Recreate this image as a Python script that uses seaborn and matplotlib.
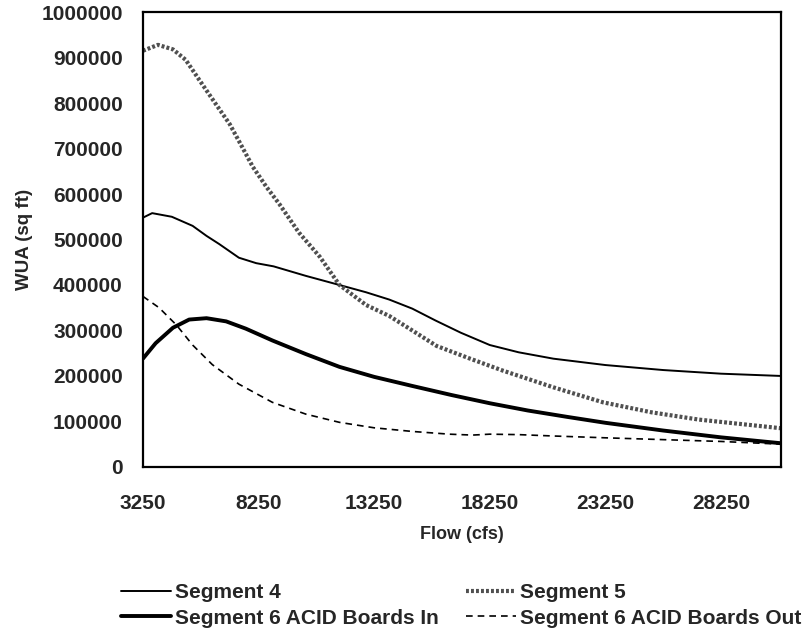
import pandas as pd
import matplotlib
matplotlib.use('Agg')
import matplotlib.pyplot as plt
import seaborn as sns

# WUA vs flow
seg4_flow = [3250, 3650, 4500, 5400, 6000, 6550, 7400, 8150, 8900, 10300, 11750,
             12900, 13900, 14900, 15900, 17000, 18250, 19500, 21000, 23250, 25750, 28250, 30850]
seg4_wua = [548000, 558000, 550000, 530000, 508000, 490000, 460000, 448000, 441000, 420000, 400000,
            384000, 368000, 348000, 322000, 295000, 268000, 252000, 238000, 224000, 213000, 205000, 200000]

seg5_flow = [3250, 3900, 4550, 5100, 5700, 6400, 7000, 7450, 8000, 8600, 9150, 10000, 10900,
             11750, 12900, 13900, 14900, 15950, 17400, 18800, 21000, 23150, 25250, 27300, 30850]
seg5_wua = [915000, 928000, 918000, 895000, 850000, 798000, 754000, 712000, 660000, 615000, 578000,
            515000, 462000, 400000, 356000, 332000, 300000, 266000, 238000, 212000, 175000, 142000,
            120000, 104000, 85000]

seg6in_flow = [3250, 3800, 4550, 5250, 6000, 6850, 7700, 8850, 10300, 11750, 13250, 14900, 16600,
               18250, 19900, 21600, 23250, 25750, 28250, 30850]
seg6in_wua = [238000, 272000, 306000, 324000, 327000, 320000, 304000, 278000, 248000, 220000, 198000,
              178000, 158000, 140000, 124000, 110000, 97000, 80000, 65000, 52000]

seg6out_flow = [3250, 3950, 4700, 5400, 6250, 7400, 8850, 10300, 11750, 13250, 14900, 16500,
                17500, 18250, 19500, 21000, 23250, 25750, 28250, 30850]
seg6out_wua = [375000, 350000, 312000, 268000, 225000, 182000, 142000, 116000, 98000, 86000, 78000,
               72000, 70000, 72000, 71000, 68000, 64000, 60000, 56000, 50000]

x_ticks = [3250, 8250, 13250, 18250, 23250, 28250]
y_ticks = list(range(0, 1000001, 100000))

rows = []
for name, fl, wu in [('Segment 4', seg4_flow, seg4_wua),
                     ('Segment 5', seg5_flow, seg5_wua),
                     ('Segment 6 ACID Boards In', seg6in_flow, seg6in_wua),
                     ('Segment 6 ACID Boards Out', seg6out_flow, seg6out_wua)]:
    for f, w in zip(fl, wu):
        rows.append({'Flow': f, 'WUA': w, 'Serie': name})
df = pd.DataFrame(rows)

sns.set_style('white')
plt.rcParams['font.family'] = ['Liberation Sans', 'DejaVu Sans']
plt.rcParams['font.weight'] = 'bold'

fig = plt.figure(figsize=(8.12, 6.37), dpi=100)
ax = fig.add_axes([0.176, 0.267, 0.786, 0.714])

estilos = {
    'Segment 4': dict(color='black', lw=1.4, ls='-'),
    'Segment 5': dict(color='#505050', lw=3.0, ls=(0, (0.7, 0.5))),
    'Segment 6 ACID Boards In': dict(color='black', lw=2.8, ls='-'),
    'Segment 6 ACID Boards Out': dict(color='black', lw=1.2, ls=(0, (4, 3))),
}

handles = {}
for serie, st in estilos.items():
    sub = df[df['Serie'] == serie]
    sns.lineplot(x='Flow', y='WUA', data=sub, ax=ax, color=st['color'],
                 linewidth=st['lw'], linestyle=st['ls'], label=serie, legend=False)
    handles[serie] = ax.lines[-1]

ax.set_xlim(3250, 30850)
ax.set_ylim(0, 1000000)
ax.set_xticks(x_ticks)
ax.set_yticks(y_ticks)
ax.set_xticklabels([str(t) for t in x_ticks], fontsize=15, fontweight='bold')
ax.set_yticklabels([str(t) for t in y_ticks], fontsize=15, fontweight='bold')
ax.tick_params(direction='inout', length=13, width=1.3, color='black')
ax.tick_params(axis='x', pad=13)
ax.tick_params(axis='y', pad=8)
for s in ax.spines.values():
    s.set_color('black')
    s.set_linewidth(1.6)

ax.set_xlabel('Flow (cfs)', fontsize=13, fontweight='bold', labelpad=9)
ax.set_ylabel('WUA (sq ft)', fontsize=13.5, fontweight='bold', labelpad=6)

ordem = ['Segment 4', 'Segment 6 ACID Boards In', 'Segment 5', 'Segment 6 ACID Boards Out']
fig.legend([handles[k] for k in ordem], ordem, loc='center', ncol=2,
           bbox_to_anchor=(0.568, 1 - 605.5 / 637), frameon=False, handlelength=2.4,
           handletextpad=0.2, columnspacing=1.3, labelspacing=0.3, borderpad=0,
           prop={'size': 15, 'weight': 'bold'})

fig.savefig('out.png', dpi=100)
